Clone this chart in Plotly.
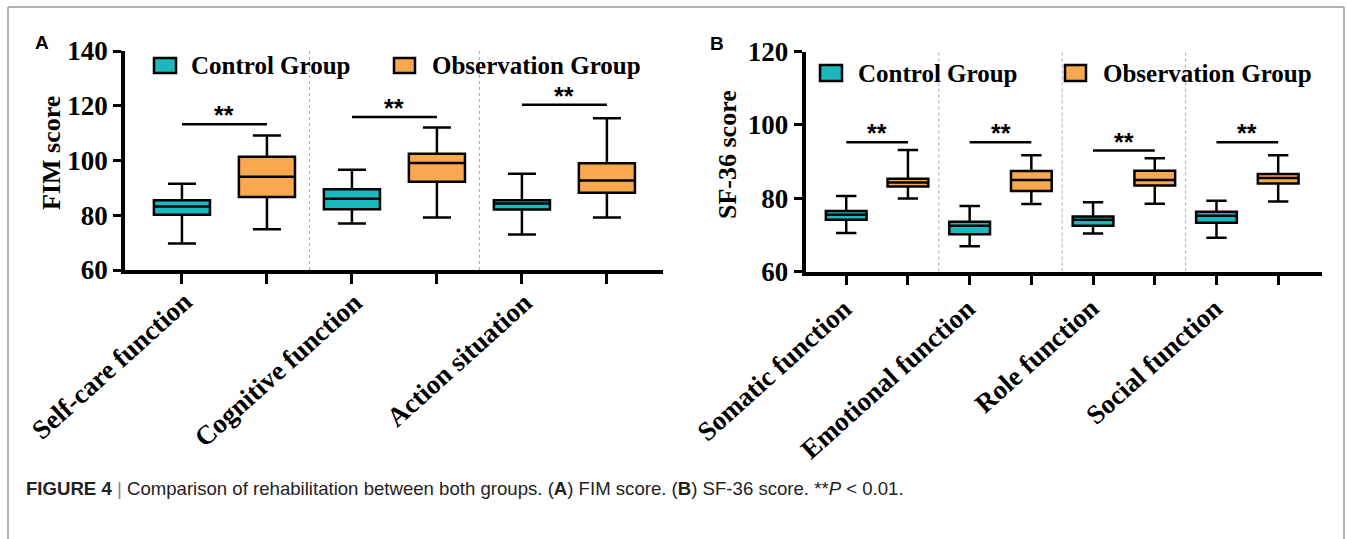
import plotly.graph_objects as go

W, H = 1347, 539

# ---------------- data ----------------
fim_categories = ["Self-care function", "Cognitive function", "Action situation"]
fim_control_min = [69.7, 77.0, 73.0]
fim_control_q1 = [80.2, 82.2, 82.1]
fim_control_med = [83.2, 86.0, 84.3]
fim_control_q3 = [85.5, 89.5, 85.5]
fim_control_max = [91.5, 96.6, 95.2]
fim_obs_min = [74.9, 79.2, 79.2]
fim_obs_q1 = [86.7, 92.2, 88.2]
fim_obs_med = [94.1, 99.1, 92.7]
fim_obs_q3 = [101.4, 102.5, 99.0]
fim_obs_max = [109.1, 112.1, 115.4]
fim_sig_y = [113.2, 115.9, 120.4]
fim_yticks = [60, 80, 100, 120, 140]

sf_categories = ["Somatic function", "Emotional function", "Role function", "Social function"]
sf_control_min = [70.5, 66.9, 70.4, 69.2]
sf_control_q1 = [74.1, 70.2, 72.5, 73.3]
sf_control_med = [75.5, 72.5, 74.1, 75.2]
sf_control_q3 = [76.5, 73.6, 75.0, 76.3]
sf_control_max = [80.6, 77.9, 78.9, 79.3]
sf_obs_min = [79.9, 78.4, 78.5, 79.1]
sf_obs_q1 = [83.2, 82.0, 83.5, 84.0]
sf_obs_med = [84.3, 85.0, 85.0, 85.5]
sf_obs_q3 = [85.3, 87.4, 87.5, 86.6]
sf_obs_max = [93.2, 91.7, 90.9, 91.7]
sf_sig_y = [95.3, 95.3, 93.0, 95.3]
sf_yticks = [60, 80, 100, 120]

series_names = ["Control Group", "Observation Group"]
TEAL = "#1bb8bd"
ORANGE = "#f8a94f"
SERIF = "Liberation Serif, Times New Roman, serif"
SANS = "Liberation Sans, Arial, sans-serif"


def px(x):
    return x / W


def py(y):
    return 1 - y / H


fig = go.Figure()

panels = [
    dict(xa="x", ya="y", cats=fim_categories, ytop=fim_yticks[-1], lab_y=284, lab_shift=-24,
         c=(fim_control_min, fim_control_q1, fim_control_med, fim_control_q3, fim_control_max),
         o=(fim_obs_min, fim_obs_q1, fim_obs_med, fim_obs_q3, fim_obs_max),
         sig=fim_sig_y),
    dict(xa="x2", ya="y2", cats=sf_categories, ytop=sf_yticks[-1], lab_y=290, lab_shift=-17,
         c=(sf_control_min, sf_control_q1, sf_control_med, sf_control_q3, sf_control_max),
         o=(sf_obs_min, sf_obs_q1, sf_obs_med, sf_obs_q3, sf_obs_max),
         sig=sf_sig_y),
]

annotations = []
shapes = []

for p in panels:
    n = len(p["cats"])
    xc = [2 * i for i in range(n)]
    xo = [2 * i + 1 for i in range(n)]
    # dividers
    for i in range(n - 1):
        shapes.append(dict(
            type="line", xref=p["xa"], yref=p["ya"], x0=2 * i + 1.5, x1=2 * i + 1.5,
            y0=60, y1=p["ytop"], layer="below",
            line=dict(color="#aaaaaa", width=1, dash="dot"),
        ))
    for xs, vals, col, name in [(xc, p["c"], TEAL, series_names[0]), (xo, p["o"], ORANGE, series_names[1])]:
        mn, q1, med, q3, mx = vals
        fig.add_trace(go.Box(
            x=xs, q1=q1, median=med, q3=q3, lowerfence=mn, upperfence=mx,
            width=0.66, whiskerwidth=0.5, fillcolor=col,
            line=dict(color="black", width=2.5), boxpoints=False,
            name=name, showlegend=False, xaxis=p["xa"], yaxis=p["ya"],
        ))
    # significance bars
    for i in range(n):
        fig.add_trace(go.Scatter(
            x=[xc[i], xo[i]], y=[p["sig"][i], p["sig"][i]], mode="lines",
            line=dict(color="black", width=2.5), showlegend=False, hoverinfo="skip",
            xaxis=p["xa"], yaxis=p["ya"],
        ))
        annotations.append(dict(
            x=(xc[i] + xo[i]) / 2, y=p["sig"][i], xref=p["xa"], yref=p["ya"],
            text="<b>**</b>", showarrow=False, xanchor="center", yanchor="bottom", yshift=-7,
            font=dict(family=SANS, size=25, color="black"),
        ))
    # category labels
    for i, cat in enumerate(p["cats"]):
        annotations.append(dict(
            x=2 * i + 0.5, y=py(p["lab_y"]), xref=p["xa"], yref="paper",
            text="<b>%s</b>" % cat, textangle=-42, showarrow=False,
            xanchor="right", yanchor="top", xshift=p["lab_shift"],
            font=dict(family=SERIF, size=27, color="black"),
        ))

axis_common = dict(
    showline=True, linecolor="black", linewidth=3.5, ticks="outside",
    tickcolor="black", tickwidth=3, showgrid=False, zeroline=False, automargin=False,
)
ytickfont = dict(family=SERIF, size=27, color="black", weight="bold")

fig.update_layout(
    template="none",
    width=W, height=H, autosize=False,
    margin=dict(l=0, r=0, t=0, b=0, pad=0, autoexpand=False),
    paper_bgcolor="white", plot_bgcolor="white",
    boxmode="overlay", showlegend=False,
    xaxis=dict(domain=[px(125), px(663)], range=[-0.67, 5.66], tickvals=list(range(6)),
               showticklabels=False, ticklen=10, anchor="y", **axis_common),
    yaxis=dict(domain=[py(270), py(51)], range=[60, 140], tickvals=fim_yticks, ticklen=8,
               tickfont=ytickfont, anchor="x", **axis_common),
    xaxis2=dict(domain=[px(805.5), px(1322)], range=[-0.66, 7.71], tickvals=list(range(8)),
                showticklabels=False, ticklen=10, anchor="y2", **axis_common),
    yaxis2=dict(domain=[py(271.5), py(51.7)], range=[60, 120], tickvals=sf_yticks, ticklen=8,
                tickfont=ytickfont, anchor="x2", **axis_common),
)

# axis titles
annotations.append(dict(x=px(52), y=py(153), xref="paper", yref="paper", text="<b>FIM score</b>",
                        textangle=-90, showarrow=False, xanchor="center", yanchor="middle",
                        font=dict(family=SERIF, size=26, color="black")))
annotations.append(dict(x=px(727), y=py(155), xref="paper", yref="paper", text="<b>SF-36 score</b>",
                        textangle=-90, showarrow=False, xanchor="center", yanchor="middle",
                        font=dict(family=SERIF, size=26, color="black")))
# panel letters
annotations.append(dict(x=px(42), y=py(43), xref="paper", yref="paper", text="<b>A</b>",
                        showarrow=False, xanchor="center", yanchor="middle",
                        font=dict(family=SANS, size=19, color="black")))
annotations.append(dict(x=px(717), y=py(44), xref="paper", yref="paper", text="<b>B</b>",
                        showarrow=False, xanchor="center", yanchor="middle",
                        font=dict(family=SANS, size=19, color="black")))

# legends (drawn per panel)
legends = [
    (58, 73, [(154, 176, 189), (394, 415, 430)]),
    (65, 81, [(820, 842, 856), (1065, 1086, 1101)]),
]
for (y0, y1, items) in legends:
    for (sx0, sx1, tx), col, name in zip(items, [TEAL, ORANGE], series_names):
        shapes.append(dict(type="rect", xref="paper", yref="paper", x0=px(sx0), x1=px(sx1),
                           y0=py(y1), y1=py(y0), fillcolor=col, line=dict(color="black", width=2.5)))
        annotations.append(dict(x=px(tx), y=py((y0 + y1) / 2), xref="paper", yref="paper",
                                text="<b>%s</b>" % name, showarrow=False, xanchor="left", yanchor="middle",
                                font=dict(family=SERIF, size=25, color="black")))

# caption
annotations.append(dict(
    x=px(24), y=py(488), xref="paper", yref="paper", xanchor="left", yanchor="middle", showarrow=False,
    text="<b>FIGURE 4</b> <span style='color:#888'>|</span> Comparison of rehabilitation between both groups. "
         "(<b>A</b>) FIM score. (<b>B</b>) SF-36 score. **<i>P</i> &lt; 0.01.",
    font=dict(family=SANS, size=18.6, color="#222222"),
))

# frame
for (x0, y0, x1, y1) in [(8, 7, 1344, 7), (8, 7, 8, 539), (1344, 7, 1344, 539)]:
    shapes.append(dict(type="line", xref="paper", yref="paper", x0=px(x0), x1=px(x1), y0=py(y0), y1=py(y1),
                       line=dict(color="#999999", width=1.5)))

fig.update_layout(annotations=annotations, shapes=shapes)
fig.write_html("out.html", config={"displayModeBar": False},
               post_script="document.body.style.margin='0';")
